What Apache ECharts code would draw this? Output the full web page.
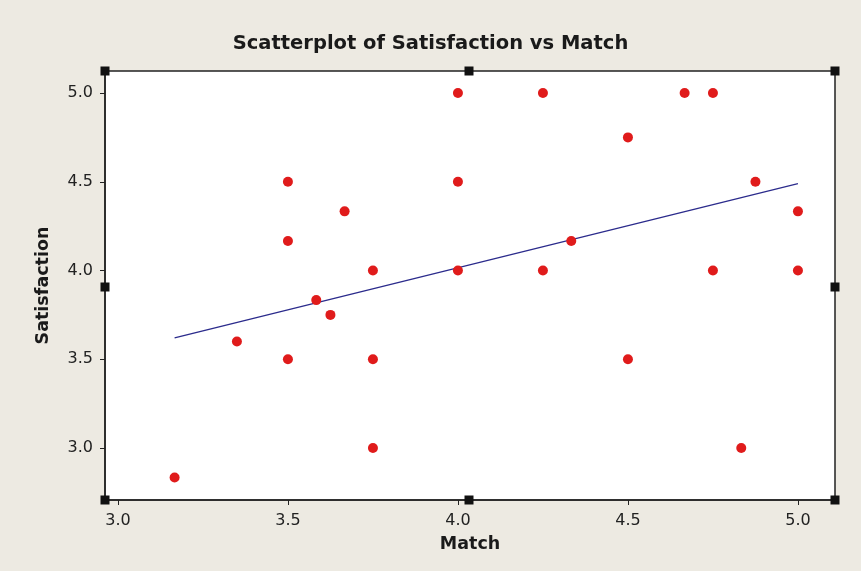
<!DOCTYPE html>
<html>
<head>
<meta charset="utf-8">
<script src="https://cdn.jsdelivr.net/npm/echarts@6/dist/echarts.min.js"></script>
<style>
html,body{margin:0;padding:0;background:#EDEAE2;}
#chart{width:861px;height:571px;}
</style>
</head>
<body>
<div id="chart"></div>
<script>
// Data
const matchValues = [3.1667, 3.35, 3.5, 3.5, 3.5, 3.5833, 3.625, 3.6667, 3.75, 3.75, 3.75, 4.0, 4.0, 4.0, 4.25, 4.25, 4.3333, 4.5, 4.5, 4.6667, 4.75, 4.75, 4.8333, 4.875, 5.0, 5.0];
const satisfactionValues = [2.8333, 3.6, 4.5, 4.1667, 3.5, 3.8333, 3.75, 4.3333, 4.0, 3.5, 3.0, 5.0, 4.5, 4.0, 5.0, 4.0, 4.1667, 4.75, 3.5, 5.0, 5.0, 4.0, 3.0, 4.5, 4.3333, 4.0];
const fitX = [3.1667, 5.0];
const fitY = [3.62, 4.49];
const xTicks = [3.0, 3.5, 4.0, 4.5, 5.0];
const yTicks = [3.0, 3.5, 4.0, 4.5, 5.0];

const G = {left: 105, right: 26, top: 71, bottom: 71};
const W = 861, H = 571;
const x0 = G.left, x1 = W - G.right, y0 = G.top, y1 = H - G.bottom;
const xm = 469, ym = 287;
const hs = 9;
function handle(cx, cy) {
  return {type: 'rect', shape: {x: cx - hs / 2, y: cy - hs / 2, width: hs, height: hs},
          style: {fill: '#111'}, z: 100};
}

const chart = echarts.init(document.getElementById('chart'), null, {renderer: 'canvas'});
chart.setOption({
  backgroundColor: '#EDEAE2',
  animation: false,
  title: {
    text: 'Scatterplot of Satisfaction vs Match',
    left: 'center',
    top: 29,
    textStyle: {fontFamily: 'DejaVu Sans', fontWeight: 'bold', fontSize: 19.5, color: '#1a1a1a'}
  },
  grid: {
    left: G.left, right: G.right, top: G.top, bottom: G.bottom,
    show: true, backgroundColor: '#ffffff', borderColor: '#222', borderWidth: 1.5
  },
  xAxis: {
    type: 'value', min: 2.962, max: 5.109,
    name: 'Match', nameLocation: 'middle', nameGap: 35,
    nameTextStyle: {fontFamily: 'DejaVu Sans', fontWeight: 'bold', fontSize: 17.5, color: '#1a1a1a'},
    axisLine: {show: true, lineStyle: {color: '#222', width: 1.5}},
    axisTick: {show: true, length: 5, customValues: xTicks, lineStyle: {color: '#222'}},
    axisLabel: {customValues: xTicks, margin: 13, fontFamily: 'DejaVu Sans', fontSize: 16, color: '#222',
      formatter: v => v.toFixed(1)},
    splitLine: {show: false}
  },
  yAxis: {
    type: 'value', min: 2.707, max: 5.124,
    name: 'Satisfaction', nameLocation: 'middle', nameGap: 53, nameRotate: 90,
    nameTextStyle: {fontFamily: 'DejaVu Sans', fontWeight: 'bold', fontSize: 17.5, color: '#1a1a1a'},
    axisLine: {show: true, lineStyle: {color: '#222', width: 1.5}},
    axisTick: {show: true, length: 5, customValues: yTicks, lineStyle: {color: '#222'}},
    axisLabel: {customValues: yTicks, margin: 12, fontFamily: 'DejaVu Sans', fontSize: 16, color: '#222',
      formatter: v => v.toFixed(1)},
    splitLine: {show: false}
  },
  series: [
    {
      type: 'line',
      data: fitX.map((x, i) => [x, fitY[i]]),
      symbol: 'none',
      lineStyle: {color: '#2b2b8c', width: 1.3},
      z: 2
    },
    {
      type: 'scatter',
      data: matchValues.map((x, i) => [x, satisfactionValues[i]]),
      symbol: 'circle',
      symbolSize: 10,
      itemStyle: {color: '#e01b1b', opacity: 1},
      z: 3
    }
  ],
  graphic: [
    handle(x0, y0), handle(xm, y0), handle(x1, y0),
    handle(x0, ym), handle(x1, ym),
    handle(x0, y1), handle(xm, y1), handle(x1, y1)
  ]
});
</script>
</body>
</html>
